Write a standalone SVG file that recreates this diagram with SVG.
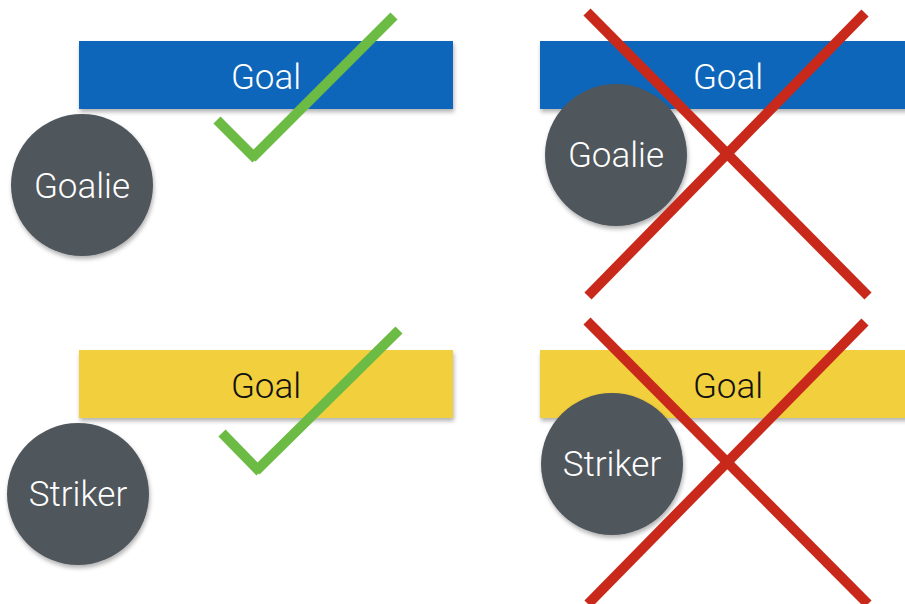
<svg xmlns="http://www.w3.org/2000/svg" width="905" height="604" viewBox="0 0 905 604">
<defs>
<filter id="sh" x="-20%" y="-20%" width="140%" height="150%">
<feDropShadow dx="1" dy="3" stdDeviation="2" flood-color="#000" flood-opacity="0.3"/>
</filter>
</defs>
<style>
.blue{fill:#1066BA;filter:url(#sh)}
.yellow{fill:#F2CF3C;filter:url(#sh)}
.player{fill:#50565C;filter:url(#sh)}
.lbl{font-family:Roboto,"Liberation Sans",Arial,sans-serif;font-weight:300;font-size:35px;text-anchor:middle}
.w{fill:#FFFFFF}
.k{fill:#111111}
.ok{stroke:#6CBB45;stroke-width:10;fill:none;stroke-linecap:butt}
.no{stroke:#C8291B;stroke-width:10;fill:none;stroke-linecap:butt}
</style>
<rect width="905" height="604" fill="#FFFFFF"/>
<g id="goal-tl"><rect class="blue" x="79" y="41" width="374" height="68"/><text class="lbl w" x="266" y="89">Goal</text></g>
<g id="goalie-tl"><circle class="player" cx="82" cy="185" r="71"/><text class="lbl w" x="82" y="198">Goalie</text></g>
<g id="goal-tr"><rect class="blue" x="540" y="41" width="380" height="68"/><text class="lbl w" x="728" y="89">Goal</text></g>
<g id="goalie-tr"><circle class="player" cx="616" cy="155" r="71"/><text class="lbl w" x="616" y="167">Goalie</text></g>
<g id="goal-bl"><rect class="yellow" x="79" y="350" width="374" height="68"/><text class="lbl k" x="266" y="398">Goal</text></g>
<g id="striker-bl"><circle class="player" cx="78" cy="494" r="71"/><text class="lbl w" x="78" y="506">Striker</text></g>
<g id="goal-br"><rect class="yellow" x="540" y="350" width="380" height="68"/><text class="lbl k" x="728" y="398">Goal</text></g>
<g id="striker-br"><circle class="player" cx="612" cy="464" r="71"/><text class="lbl w" x="612" y="476">Striker</text></g>
<g id="connectors">
<line class="ok" x1="217" y1="120" x2="256" y2="159"/>
<line class="ok" x1="252" y1="158" x2="394" y2="16"/>
<line class="ok" x1="222" y1="433" x2="260" y2="472"/>
<line class="ok" x1="256" y1="471" x2="399" y2="330"/>
<line class="no" x1="587" y1="12" x2="868" y2="296"/>
<line class="no" x1="865" y1="13" x2="588" y2="296"/>
<line class="no" x1="587" y1="321" x2="868" y2="604"/>
<line class="no" x1="865" y1="322" x2="588" y2="604"/>
</g>
</svg>
